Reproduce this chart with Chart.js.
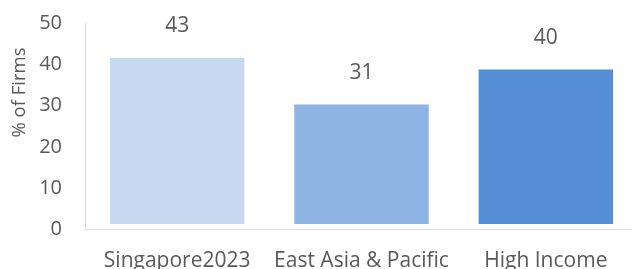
<!DOCTYPE html>
<html><head><meta charset="utf-8">
<script src="https://cdn.jsdelivr.net/npm/chart.js@4/dist/chart.umd.min.js"></script>
<style>html,body{margin:0;padding:0;background:#fff;overflow:hidden;width:632px;height:269px}#wrap{width:640px;height:269px;position:relative}</style>
</head><body><div id="wrap"><canvas id="c"></canvas></div>
<script>
const categories = ["Singapore2023", "East Asia & Pacific", "High Income"];
const values = [43, 31, 40];
const barColors = ["#c6d9f1", "#8eb4e3", "#558ed5"];
const yTicks = [0, 10, 20, 30, 40, 50];
const yTitle = "% of Firms";
const FONT = "'Open Sans', sans-serif";
const TXT = "#595959";

const labelPlugin = {
  id: 'labels',
  afterDatasetsDraw(chart) {
    const ctx = chart.ctx;
    ctx.save();
    ctx.font = "21px " + FONT;
    ctx.fillStyle = TXT;
    ctx.textAlign = "center";
    ctx.textBaseline = "middle";
    chart.getDatasetMeta(0).data.forEach((bar, i) => {
      ctx.fillText(String(values[i]), bar.x, bar.y - 31);
    });
    ctx.restore();
  },
  afterDraw(chart) {
    const ctx = chart.ctx;
    ctx.save();
    ctx.font = "18.5px " + FONT;
    ctx.fillStyle = TXT;
    ctx.textAlign = "center";
    ctx.textBaseline = "middle";
    ctx.translate(20, 92.5);
    ctx.rotate(-Math.PI / 2);
    ctx.fillText(yTitle, 0, 0);
    ctx.restore();
  }
};

new Chart(document.getElementById('c'), {
  type: 'bar',
  data: {
    labels: categories,
    datasets: [{
      data: values,
      backgroundColor: barColors,
      borderColor: "rgba(255,255,255,0.6)",
      borderWidth: 1,
      barPercentage: 0.74,
      categoryPercentage: 1.0,
      yAxisID: 'y'
    }]
  },
  options: {
    responsive: true,
    maintainAspectRatio: false,
    animation: false,
    layout: { padding: { top: 23.5, right: 2, left: 0, bottom: 0 } },
    plugins: { legend: { display: false }, tooltip: { enabled: false } },
    scales: {
      x: {
        grid: { display: false, drawTicks: false },
        border: { display: true, color: "#d9d9d9", width: 1 },
        ticks: { color: TXT, font: { family: FONT, size: 21 }, padding: 19, maxRotation: 0, autoSkip: false },
        afterFit(s) { s.height = 40; s.paddingLeft = 0; s.paddingRight = 0; }
      },
      y: {
        display: false,
        min: -1.3, max: 51.6
      },
      y2: {
        position: 'left',
        min: 0, max: 50,
        afterBuildTicks(s) { s.ticks = yTicks.map(v => ({ value: v })); },
        grid: { display: false, drawTicks: false },
        border: { display: true, color: "#d5deeb", width: 1 },
        ticks: { color: TXT, font: { family: FONT, size: 20 }, padding: 23 },
        afterFit(s) { s.width = 85; s.paddingTop = 0; s.paddingBottom = 0; }
      }
    }
  },
  plugins: [labelPlugin]
});
</script></body></html>
